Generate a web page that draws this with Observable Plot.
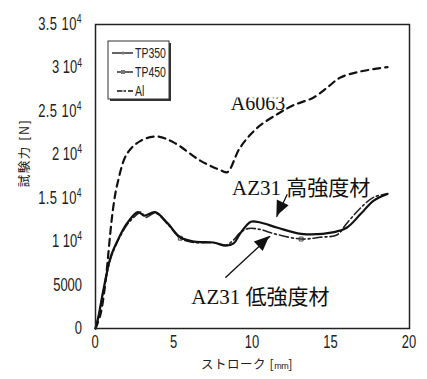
<!DOCTYPE html>
<html><head><meta charset="utf-8">
<script src="https://cdn.jsdelivr.net/npm/d3@7"></script>
<script src="https://cdn.jsdelivr.net/npm/@observablehq/plot@0.6"></script>
<style>body{margin:0;background:#fff}</style>
</head><body><div id="chart"></div>
<script>
const a6063X = [0,0.3,0.6,0.76,0.96,1.15,1.4,2.0,2.87,3.9,5.0,6.7,8.0,8.4,9.2,10.3,11.6,12.6,13.9,14.8,15.6,16.9,18.6];
const a6063Y = [0,1500,4800,7500,11300,14200,16700,20100,21600,22100,21400,19300,18200,18000,20800,23100,24700,25700,26600,27800,28900,29600,30100];
const highX = [0,0.2,0.5,0.96,1.4,2.0,2.7,3.1,3.8,4.6,5.4,6.3,7.5,8.3,8.8,9.2,9.9,10.5,11.6,13.1,15.2,16.0,16.9,17.7,18.6];
const highY = [0,1500,4400,8200,10100,12100,13400,13000,13400,12100,10500,10000,9900,9550,9800,10900,12300,12200,11600,10900,11100,11600,13200,14700,15500];
const lowX = [0,0.2,0.5,0.96,1.4,2.0,2.5,2.9,3.2,3.8,4.6,5.4,6.3,7.5,8.3,8.8,9.2,9.7,10.5,11.4,13.1,14.3,15.4,16.0,16.9,17.7,18.6];
const lowY = [0,1400,4300,8000,10000,11900,12900,13400,12800,13300,12000,10400,9900,9900,9600,10200,11000,11500,11400,10900,10300,10500,10800,12100,13900,15100,15500];
const yTicks = [0,5000,10000,15000,20000,25000,30000,35000];
const yTickLabels = ["0","5000","1","1.5","2","2.5","3","3.5"];
const xTicks = [0,5,10,15,20];
const legendNames = ["TP350","TP450","Al"];
const labelA6063 = [{x:10.35, y:25100, text:"A6063"}];
const annotations = [
  {x:13.1, y:15400, text:"AZ31 高強度材"},
  {x:10.5, y:2800, text:"AZ31 低強度材"}
];
const arrows = [
  {x1:12.2, y1:15400, x2:11.55, y2:12900},
  {x1:8.3, y1:5900, x2:11.1, y2:10600}
];

const zip = (xs, ys) => xs.map((x,i)=>({x, y:ys[i]}));
const a6063 = zip(a6063X, a6063Y), high = zip(highX, highY), low = zip(lowX, lowY);
const sansFont = "'Liberation Sans',Arial,sans-serif";
const serifFont = "'Liberation Serif','Noto Sans CJK JP',serif";

const plot = Plot.plot({
  width: 427, height: 379,
  marginLeft: 95, marginRight: 18, marginTop: 24, marginBottom: 51,
  style: {fontFamily: sansFont, fontSize: "16px", color: "#222", background: "#fff"},
  x: {domain: [0,20], label: null, axis: null},
  y: {domain: [0,35000], label: null, axis: null},
  marks: [
    Plot.line(a6063, {x:"x", y:"y", curve:"catmull-rom", stroke:"#111", strokeWidth:2.2, strokeDasharray:"7,5"}),
    Plot.line(low, {x:"x", y:"y", curve:"catmull-rom", stroke:"#222", strokeWidth:1.6, strokeDasharray:"9,3,2,3"}),
    Plot.dot([low[11], low[20]], {x:"x", y:"y", symbol:"square", r:2.2, stroke:"#444", fill:"none", strokeWidth:1}),
    Plot.line(high, {x:"x", y:"y", curve:"catmull-rom", stroke:"#111", strokeWidth:2.2}),
    Plot.arrow(arrows, {x1:"x1", y1:"y1", x2:"x2", y2:"y2", stroke:"#111", strokeWidth:1.3, headLength:0}),
    Plot.text(labelA6063, {x:"x", y:"y", text:"text", fontFamily:serifFont, fontSize:20, fill:"#111", lineAnchor:"bottom"}),
    Plot.text(annotations, {x:"x", y:"y", text:"text", fontFamily:serifFont, fontSize:21, fill:"#111", lineAnchor:"bottom"}),
    Plot.frame({stroke:"#222", strokeWidth:1.5})
  ]
});
document.getElementById("chart").appendChild(plot);

const svg = d3.select(plot);
const sx = plot.scale("x"), sy = plot.scale("y");

// clip the top of the A6063 label as in the original
const defs = svg.append("defs");
defs.append("clipPath").attr("id","clipA").attr("clipPathUnits","userSpaceOnUse")
  .append("rect").attr("x",0).attr("y",97).attr("width",427).attr("height",300);
svg.selectAll("text").filter(function(){ return this.textContent === "A6063"; })
  .each(function(){ d3.select(this.parentNode).attr("clip-path","url(#clipA)"); });

// filled arrowheads
arrows.forEach(a => {
  const x1 = sx.apply(a.x1), y1 = sy.apply(a.y1), x2 = sx.apply(a.x2), y2 = sy.apply(a.y2);
  const len = Math.hypot(x2-x1, y2-y1), ux = (x2-x1)/len, uy = (y2-y1)/len;
  const L = 15, W = 13, bx = x2 - ux*L, by = y2 - uy*L;
  const pts = [[x2,y2],[bx - uy*W/2, by + ux*W/2],[bx + uy*W/2, by - ux*W/2]];
  svg.append("path").attr("d", "M" + pts.map(p=>p.join(",")).join("L") + "Z").attr("fill","#111");
});

// narrow text helper
function narrowText(g, x, y, anchor, size, scale, parts) {
  const t = g.append("text").attr("transform", `translate(${x},${y}) scale(${scale},1)`)
    .attr("text-anchor", anchor).attr("font-family", sansFont).attr("font-size", size).attr("fill", "#222");
  parts.forEach(p => {
    const ts = t.append("tspan").text(p.text);
    if (p.sup) ts.attr("font-size", size*0.66).attr("dy", -size*0.38);
  });
  return t;
}
// y tick labels
yTicks.forEach((v,i) => {
  const y = sy.apply(v) + 6;
  const parts = i < 2 ? [{text: yTickLabels[i]}] : [{text: yTickLabels[i] + " 10"}, {text:"4", sup:true}];
  const t = narrowText(svg, 82, y, "end", 18, 0.72, parts);
  if (yTickLabels[i].includes(".")) t.attr("letter-spacing", 0.6);
});
// x tick labels
xTicks.forEach(v => {
  narrowText(svg, sx.apply(v), 348, "middle", 18, 0.72, [{text: String(v)}]);
});

// axis titles
svg.append("text").attr("transform","translate(25,153) rotate(-90)").attr("text-anchor","middle").attr("dy","0.35em")
  .attr("font-family","'Noto Sans CJK JP',sans-serif").attr("font-size",12.5).attr("letter-spacing",1.5).attr("fill","#222").text("試験力 [N]");
const xt = svg.append("text").attr("x",247).attr("y",369).attr("text-anchor","middle")
  .attr("font-family","'Noto Sans CJK JP',sans-serif").attr("font-size",12.5).attr("letter-spacing",0.5).attr("fill","#222");
xt.append("tspan").text("ストローク [");
xt.append("tspan").attr("font-family", sansFont).attr("font-size",9).attr("letter-spacing",-0.5).text("mm");
xt.append("tspan").text("]");

// legend
const lg = svg.append("g");
lg.append("rect").attr("x",110).attr("y",43).attr("width",61).attr("height",58).attr("fill","#333");
lg.append("rect").attr("x",108).attr("y",41).attr("width",61).attr("height",58).attr("fill","#fff").attr("stroke","#333").attr("stroke-width",1);
const lx1 = [112,117,117];
const dashes = [null, null, "5,2,2,2"];
legendNames.forEach((n,i)=>{
  const y = 53 + i*19;
  lg.append("line").attr("x1",lx1[i]).attr("x2",133).attr("y1",y).attr("y2",y).attr("stroke","#111").attr("stroke-width",1.3).attr("stroke-dasharray",dashes[i]);
  if (i===0) lg.append("circle").attr("cx",123).attr("cy",y).attr("r",1.6).attr("fill","#777");
  if (i===1) lg.append("rect").attr("x",121).attr("y",y-2).attr("width",4).attr("height",4).attr("fill","#777");
  if (i===2) lg.append("circle").attr("cx",123).attr("cy",y).attr("r",1.3).attr("fill","#aaa");
  narrowText(lg, 135, y + 5, "start", 14, 0.75, [{text: n}]);
});
</script></body></html>
